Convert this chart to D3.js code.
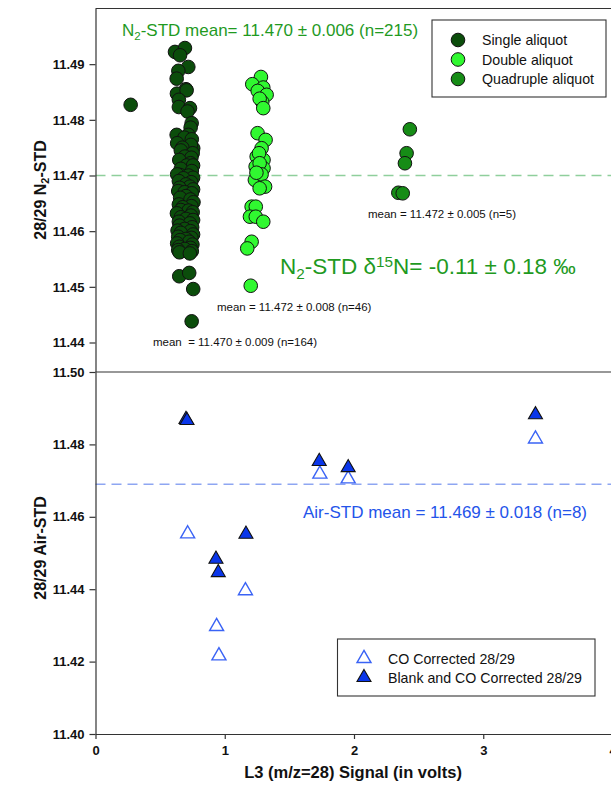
<!DOCTYPE html>
<html>
<head>
<meta charset="utf-8">
<script src="https://cdn.jsdelivr.net/npm/d3@7"></script>
<style>
  html, body { margin: 0; padding: 0; background: #fff; }
  svg { display: block; font-family: "Liberation Sans", Arial, sans-serif; }
</style>
</head>
<body>
<svg id="chart" width="611" height="795"></svg>
<script>
// ---- N2-STD runs: [L3 signal (V), 28/29 ratio] ----
const singleAliquot = [
  [0.272, 11.4827],
  [0.615, 11.4922], [0.692, 11.4929], [0.654, 11.4916], [0.718, 11.4895], [0.641, 11.4888],
  [0.628, 11.4874], [0.700, 11.4855], [0.630, 11.4847], [0.705, 11.4853], [0.645, 11.4836],
  [0.645, 11.4823], [0.731, 11.4821], [0.712, 11.4815], [0.744, 11.4794], [0.736, 11.4786],
  [0.628, 11.4773], [0.718, 11.4773], [0.688, 11.4768], [0.632, 11.4758], [0.745, 11.4765],
  [0.756, 11.4749], [0.738, 11.4755], [0.672, 11.4750], [0.660, 11.4745], [0.752, 11.4740],
  [0.692, 11.4734], [0.742, 11.4732], [0.648, 11.4728], [0.735, 11.4722], [0.705, 11.4718],
  [0.755, 11.4718], [0.660, 11.4712], [0.745, 11.4708], [0.654, 11.4701], [0.632, 11.4702],
  [0.720, 11.4700], [0.755, 11.4696], [0.680, 11.4695], [0.645, 11.4690], [0.740, 11.4688],
  [0.700, 11.4684], [0.730, 11.4680], [0.650, 11.4678], [0.755, 11.4675], [0.640, 11.4672],
  [0.690, 11.4670], [0.745, 11.4668], [0.700, 11.4663], [0.655, 11.4660], [0.735, 11.4657],
  [0.758, 11.4652], [0.645, 11.4648], [0.742, 11.4645], [0.675, 11.4643], [0.660, 11.4638],
  [0.720, 11.4637], [0.752, 11.4634], [0.630, 11.4632], [0.738, 11.4628], [0.660, 11.4625],
  [0.700, 11.4622], [0.755, 11.4620], [0.645, 11.4617], [0.730, 11.4614], [0.650, 11.4610],
  [0.748, 11.4607], [0.690, 11.4604], [0.635, 11.4601], [0.735, 11.4600], [0.660, 11.4597],
  [0.755, 11.4594], [0.640, 11.4590], [0.742, 11.4588], [0.700, 11.4586], [0.655, 11.4584],
  [0.725, 11.4581], [0.632, 11.4578], [0.750, 11.4576], [0.648, 11.4572], [0.735, 11.4570],
  [0.690, 11.4568], [0.640, 11.4566], [0.745, 11.4564], [0.650, 11.4562], [0.730, 11.4560],
  [0.648, 11.4519], [0.725, 11.4525], [0.756, 11.4496], [0.744, 11.4438]
];
const doubleAliquot = [
  [1.280, 11.4877], [1.213, 11.4864], [1.298, 11.4858], [1.255, 11.4852], [1.324, 11.4845],
  [1.290, 11.4832], [1.270, 11.4838], [1.298, 11.4821], [1.254, 11.4776], [1.316, 11.4764],
  [1.285, 11.4749], [1.247, 11.4734], [1.300, 11.4728], [1.265, 11.4740], [1.239, 11.4716],
  [1.300, 11.4713], [1.270, 11.4722], [1.233, 11.4692], [1.285, 11.4702], [1.312, 11.4680],
  [1.270, 11.4677], [1.245, 11.4705], [1.208, 11.4644], [1.240, 11.4644], [1.195, 11.4626],
  [1.240, 11.4626], [1.298, 11.4617], [1.208, 11.4581], [1.174, 11.4569], [1.201, 11.4502]
];
const quadrupleAliquot = [
  [2.432, 11.4783], [2.407, 11.4740], [2.394, 11.4722], [2.343, 11.4669], [2.377, 11.4668]
];
const n2Mean = 11.470;

// ---- Air-STD runs ----
const coCorrected = [
  [0.713, 11.4553], [0.937, 11.4297], [0.955, 11.4216], [1.160, 11.4396],
  [1.736, 11.4718], [1.955, 11.4705], [3.404, 11.4815]
];
const blankCoCorrected = [
  [0.700, 11.4869], [0.708, 11.4866], [0.932, 11.4483], [0.950, 11.4446],
  [1.164, 11.4552], [1.731, 11.4753], [1.955, 11.4736], [3.404, 11.4882]
];
const airMean = 11.469;

// ---- axis ticks ----
const xTicks = [0, 1, 2, 3, 4];
const yTopTicks = [11.44, 11.45, 11.46, 11.47, 11.48, 11.49];
const yBottomTicks = [11.40, 11.42, 11.44, 11.46, 11.48, 11.50];

const svg = d3.select("#chart");

const left = 95.5, right = 612.5;
const topY = 8.5, midY = 372, bottomY = 734;

const x = d3.scaleLinear().domain([0, 4]).range([left, right]);
const yTop = d3.scaleLinear().domain([11.4347, 11.5]).range([midY, topY]);
const yBot = d3.scaleLinear().domain([11.40, 11.50]).range([bottomY, midY]);

const colors = { single: "#0b4d0b", double: "#30f830", quad: "#168c16" };
const greenText = "#1f9a1f";
const blueText = "#2454ea";

// mean reference lines
svg.append("line")
  .attr("x1", left).attr("x2", 611)
  .attr("y1", yTop(n2Mean)).attr("y2", yTop(n2Mean))
  .attr("stroke", "#8fcf9c").attr("stroke-width", 1.6).attr("stroke-dasharray", "10,6");
svg.append("line")
  .attr("x1", left).attr("x2", 611)
  .attr("y1", yBot(airMean)).attr("y2", yBot(airMean))
  .attr("stroke", "#8ea6f2").attr("stroke-width", 1.6).attr("stroke-dasharray", "10,6");

// frame line along the top
svg.append("line").attr("x1", left).attr("x2", 611).attr("y1", topY).attr("y2", topY)
  .attr("stroke", "#333").attr("stroke-width", 1.2);

// axes
function styleAxis(g) {
  g.selectAll("path.domain").attr("stroke", "#333").attr("stroke-width", 1.2);
  g.selectAll(".tick line").attr("stroke", "#333").attr("stroke-width", 1.2);
  g.selectAll(".tick text").attr("fill", "#111").attr("font-size", 13).attr("font-weight", "bold")
    .attr("font-family", "Liberation Sans, Arial, sans-serif");
}
svg.append("g").attr("transform", `translate(${left},0)`)
  .call(d3.axisLeft(yTop).tickValues(yTopTicks).tickFormat(d3.format(".2f")).tickSizeInner(6).tickSizeOuter(0).tickPadding(5))
  .call(styleAxis);
svg.append("g").attr("transform", `translate(${left},0)`)
  .call(d3.axisLeft(yBot).tickValues(yBottomTicks).tickFormat(d3.format(".2f")).tickSizeInner(6).tickSizeOuter(0).tickPadding(5))
  .call(styleAxis);
svg.append("line").attr("x1", left).attr("x2", 611).attr("y1", midY).attr("y2", midY)
  .attr("stroke", "#333").attr("stroke-width", 1.2);
svg.append("g").attr("transform", `translate(0,${bottomY})`)
  .call(d3.axisBottom(x).tickValues(xTicks).tickFormat(d3.format("d")).tickSizeInner(5).tickSizeOuter(0).tickPadding(7))
  .call(styleAxis);

// N2-STD scatter
const plotTop = svg.append("g");
function drawCircles(data, fill) {
  plotTop.selectAll(null).data(data).enter().append("circle")
    .attr("cx", d => x(d[0])).attr("cy", d => yTop(d[1])).attr("r", 6.8)
    .attr("fill", fill).attr("stroke", "#111").attr("stroke-width", 1);
}
drawCircles(singleAliquot, colors.single);
drawCircles(doubleAliquot, colors.double);
drawCircles(quadrupleAliquot, colors.quad);

// Air-STD triangles
const tri = d3.symbol().type(d3.symbolTriangle).size(85);
svg.append("g").selectAll("path").data(coCorrected).enter().append("path")
  .attr("d", tri).attr("transform", d => `translate(${x(d[0])},${yBot(d[1])})`)
  .attr("fill", "none").attr("stroke", "#3a63f5").attr("stroke-width", 1.4);
svg.append("g").selectAll("path").data(blankCoCorrected).enter().append("path")
  .attr("d", tri).attr("transform", d => `translate(${x(d[0])},${yBot(d[1])})`)
  .attr("fill", "#0a36ea").attr("stroke", "#111").attr("stroke-width", 1.1);

// text helpers
function addText(xp, yp, size, color, parts, weight) {
  const t = svg.append("text").attr("x", xp).attr("y", yp)
    .attr("font-size", size).attr("fill", color).attr("font-weight", weight || "normal");
  parts.forEach(p => {
    const s = t.append("tspan").text(p.t);
    if (p.sub) s.attr("baseline-shift", "-30%").attr("font-size", size * 0.68);
    if (p.sup) s.attr("baseline-shift", "45%").attr("font-size", size * 0.68);
  });
  return t;
}

addText(122, 36, 17, greenText, [{ t: "N" }, { t: "2", sub: true }, { t: "-STD mean= 11.470 ± 0.006 (n=215)" }]);
addText(280, 274, 22.5, greenText, [{ t: "N" }, { t: "2", sub: true }, { t: "-STD δ" }, { t: "15", sup: true }, { t: "N= -0.11 ± 0.18 ‰" }]);
addText(368, 218, 11.5, "#111", [{ t: "mean = 11.472 ± 0.005 (n=5)" }]);
addText(217, 311, 11.5, "#111", [{ t: "mean = 11.472 ± 0.008 (n=46)" }]);
addText(153, 346, 11.5, "#111", [{ t: "mean  = 11.470 ± 0.009 (n=164)" }]).attr("xml:space", "preserve");
addText(303, 518, 17, blueText, [{ t: "Air-STD mean = 11.469 ± 0.018 (n=8)" }]);

// axis titles
addText(0, 0, 16, "#111", [{ t: "28/29 N" }, { t: "2", sub: true }, { t: "-STD" }], "bold")
  .attr("text-anchor", "middle").attr("transform", "translate(46,190) rotate(-90)");
addText(0, 0, 16, "#111", [{ t: "28/29 Air-STD" }], "bold")
  .attr("text-anchor", "middle").attr("transform", "translate(46,548) rotate(-90)");
addText(353, 778, 16.5, "#111", [{ t: "L3 (m/z=28) Signal (in volts)" }], "bold").attr("text-anchor", "middle");

// legend: N2-STD
const legTop = svg.append("g");
legTop.append("rect").attr("x", 432).attr("y", 20).attr("width", 174).attr("height", 77)
  .attr("fill", "#fff").attr("stroke", "#333").attr("stroke-width", 1.1);
[["Single aliquot", colors.single], ["Double aliquot", colors.double], ["Quadruple aliquot", colors.quad]]
  .forEach((e, i) => {
    const cy = 40 + i * 19.5;
    legTop.append("circle").attr("cx", 458).attr("cy", cy).attr("r", 6.8)
      .attr("fill", e[1]).attr("stroke", "#111").attr("stroke-width", 1);
    legTop.append("text").attr("x", 482).attr("y", cy + 5).attr("font-size", 14.2).attr("fill", "#111").text(e[0]);
  });

// legend: Air-STD
const legBot = svg.append("g");
legBot.append("rect").attr("x", 337.5).attr("y", 639).attr("width", 257.5).attr("height", 57)
  .attr("fill", "#fff").attr("stroke", "#333").attr("stroke-width", 1.1);
legBot.append("path").attr("d", tri).attr("transform", "translate(364,658.5)")
  .attr("fill", "none").attr("stroke", "#3a63f5").attr("stroke-width", 1.4);
legBot.append("text").attr("x", 388).attr("y", 663.5).attr("font-size", 14.2).attr("fill", "#111").text("CO Corrected 28/29");
legBot.append("path").attr("d", tri).attr("transform", "translate(364,677.5)")
  .attr("fill", "#0a36ea").attr("stroke", "#111").attr("stroke-width", 1.1);
legBot.append("text").attr("x", 388).attr("y", 682.5).attr("font-size", 14.2).attr("fill", "#111").text("Blank and CO Corrected 28/29");
</script>
</body>
</html>
